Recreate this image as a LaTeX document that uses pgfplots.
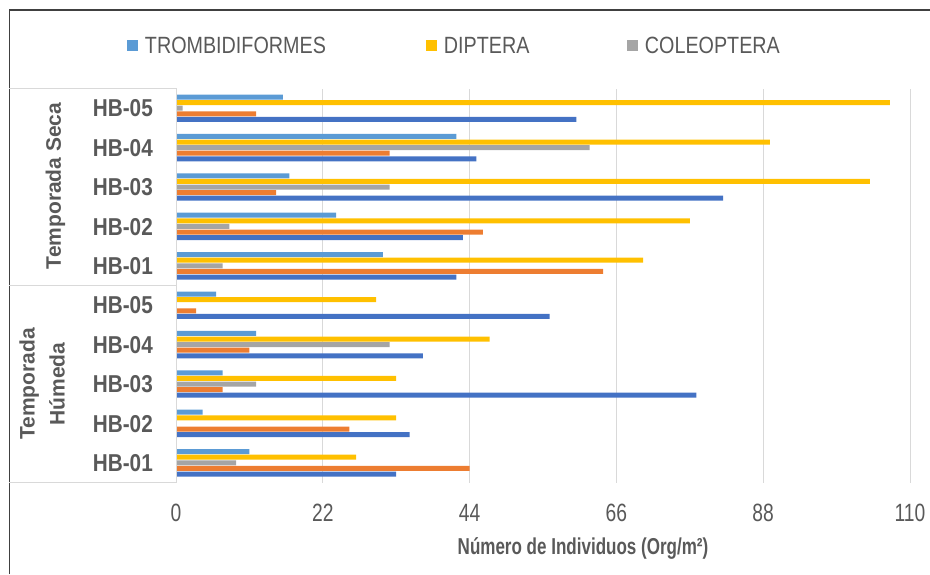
\documentclass[border=0pt]{standalone}
\usepackage{fontspec}
\setmainfont{Liberation Sans}
\usepackage{graphicx}
\usepackage{pgfplots}
\pgfplotsset{compat=1.18}
\definecolor{cDB}{HTML}{4472C4}
\definecolor{cOR}{HTML}{ED7D31}
\definecolor{cGR}{HTML}{A5A5A5}
\definecolor{cYE}{HTML}{FFC000}
\definecolor{cLB}{HTML}{5B9BD5}
\definecolor{txt}{HTML}{595959}
\definecolor{gridc}{HTML}{D9D9D9}
\definecolor{framec}{HTML}{404040}
\newcommand{\sx}[2]{\scalebox{#1}[1]{#2}}
\begin{document}
\begin{tikzpicture}[x=1pt,y=1pt]
\useasboundingbox (0,0) rectangle (930,574);
\draw[framec, line width=1.6pt] (9.3,0) -- (9.3,564) -- (930,564);
\begin{axis}[
 at={(176pt,91.5pt)}, anchor=south west,
 scale only axis, width=734pt, height=394pt,
 xmin=0, xmax=110, ymin=-0.5, ymax=9.5,
 xtick={0,22,44,66,88,110},
 xticklabels={\sx{0.77}{0},\sx{0.77}{22},\sx{0.77}{44},\sx{0.77}{66},\sx{0.77}{88},\sx{0.77}{110}},
 ytick={0,1,2,3,4,5,6,7,8,9},
 yticklabels={\sx{0.85}{HB-01},\sx{0.85}{HB-02},\sx{0.85}{HB-03},\sx{0.85}{HB-04},\sx{0.85}{HB-05},\sx{0.85}{HB-01},\sx{0.85}{HB-02},\sx{0.85}{HB-03},\sx{0.85}{HB-04},\sx{0.85}{HB-05}},
 major tick length=0pt, tick style={draw=none},
 axis line style={draw=none},
 xmajorgrids, grid style={gridc, line width=1pt},
 xticklabel style={anchor=base, inner sep=0pt, yshift=-38.5pt, font=\fontsize{25}{25}\selectfont, text=txt},
 yticklabel style={anchor=base east, inner sep=0pt, xshift=-23pt, yshift=-8.75pt, font=\fontsize{24.4}{24.4}\selectfont\bfseries, text=txt},
 xlabel={\sx{0.74}{Número de Individuos (Org/m²)}},
 xlabel style={at={(axis description cs:0.5545,-0.184)}, anchor=base, inner sep=0pt, font=\fontsize{23}{23}\selectfont\bfseries, text=txt},
 xbar, bar width=5pt,
 legend columns=3,
 legend style={at={(axis description cs:-0.0668,1.108)}, anchor=west, draw=none, fill=none, inner sep=0pt, outer sep=0pt,
   nodes={inner sep=0pt, outer sep=0pt, text=txt, font=\fontsize{23.5}{23.5}\selectfont},
   /tikz/every even column/.style={column sep=0pt}},
 legend image code/.code={\path[#1,draw=none] (0pt,-5.5pt) rectangle (11pt,5.5pt);},
 clip=false,
]
% TROMBIDIFORMES
\addplot[xbar, bar shift=11.2pt, fill=cLB, draw=none] coordinates {
 (11,0) (4,1) (7,2) (12,3) (6,4) (31,5) (24,6) (17,7) (42,8) (16,9)};
\addlegendentry{\hspace*{7pt}\makebox[281pt][l]{\sx{0.84}{TROMBIDIFORMES}}}
% DIPTERA
\addplot[xbar, bar shift=5.6pt, fill=cYE, draw=none] coordinates {
 (27,0) (33,1) (33,2) (47,3) (30,4) (70,5) (77,6) (104,7) (89,8) (107,9)};
\addlegendentry{\hspace*{7pt}\makebox[183pt][l]{\sx{0.84}{DIPTERA}}}
% COLEOPTERA
\addplot[xbar, bar shift=0pt, fill=cGR, draw=none] coordinates {
 (9,0) (0,1) (12,2) (32,3) (0,4) (7,5) (8,6) (32,7) (62,8) (1,9)};
\addlegendentry{\hspace*{7pt}\sx{0.84}{COLEOPTERA}}
% orange series
\addplot[xbar, forget plot, bar shift=-5.6pt, fill=cOR, draw=none] coordinates {
 (44,0) (26,1) (7,2) (11,3) (3,4) (64,5) (46,6) (15,7) (32,8) (12,9)};
% dark blue series
\addplot[xbar, forget plot, bar shift=-11.2pt, fill=cDB, draw=none] coordinates {
 (33,0) (35,1) (78,2) (37,3) (56,4) (42,5) (43,6) (82,7) (45,8) (60,9)};
\end{axis}
\draw[gridc, line width=1pt] (9.3,485.5) -- (176,485.5) -- (176,91.5) -- (9.3,91.5);
\draw[gridc, line width=1pt] (9.3,288.5) -- (176,288.5);
\node[rotate=90, font=\fontsize{21}{21}\selectfont\bfseries, text=txt] at (55.5,388) {Temporada Seca};
\node[rotate=90, align=center, font=\fontsize{21}{30}\selectfont\bfseries, text=txt] at (42,190) {Temporada\\Húmeda};
\end{tikzpicture}
\end{document}
